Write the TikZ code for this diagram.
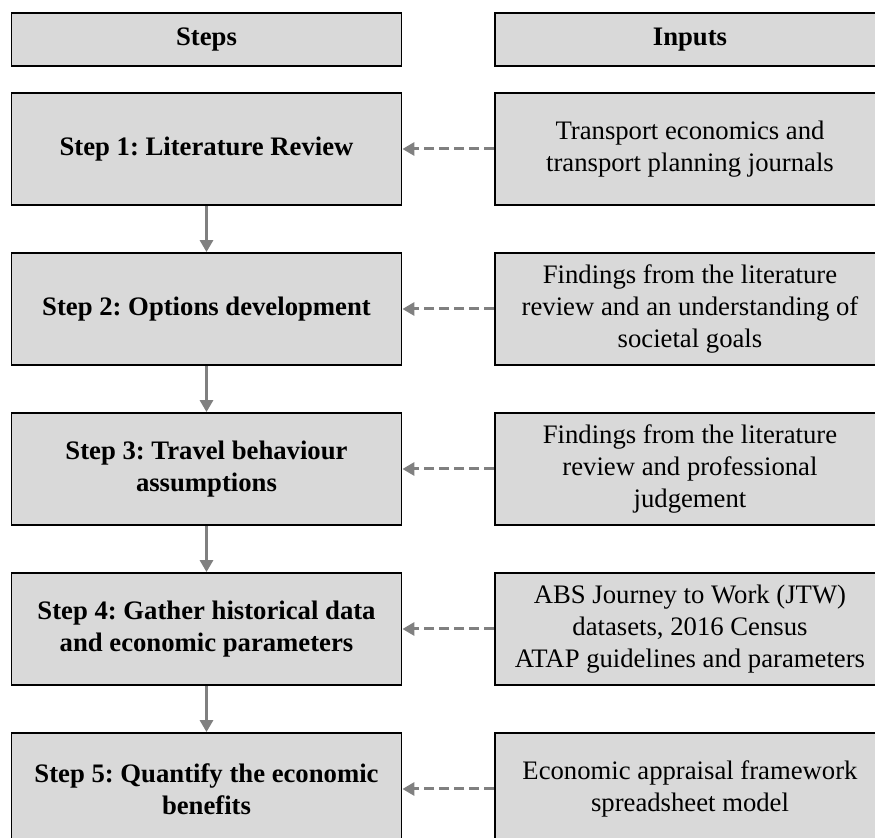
\documentclass[tikz,border=0pt]{standalone}
\usepackage{fontspec}
\setmainfont{Liberation Serif}
\frenchspacing
\usetikzlibrary{arrows.meta,positioning}
\definecolor{boxGrey}{RGB}{217,217,217}
\definecolor{arrowGrey}{RGB}{128,128,128}

\begin{document}
\begin{tikzpicture}[x=0.5pt,y=-0.5pt,
    box/.style={draw=black,fill=boxGrey,line width=0.9pt,
                minimum width=195pt,minimum height=56pt,
                inner sep=0pt,align=center,
                font=\fontsize{13.35}{15.9}\selectfont},
    head/.style={box,minimum height=26.5pt,font=\fontsize{13.35}{15.9}\selectfont\bfseries},
    stepbox/.style={box,font=\fontsize{13.35}{15.9}\selectfont\bfseries},
    inbox/.style={box},
    flow/.style={arrowGrey,line width=1.5pt,-{Triangle[length=6pt,width=6.5pt]}},
    feed/.style={flow,dash pattern=on 5pt off 2.5pt}]

    \useasboundingbox (0,0) rectangle (875,838);
    \clip (0,0) rectangle (875,838);

    % Headers
    \node[head] (steps) at (206.5,39.5) {Steps};
    \node[head] (inputs) at (690,39.5) {Inputs};

    % Steps
    \foreach \i/\txt in {1/{Step 1: Literature Review},
                         2/{Step 2: Options development},
                         3/{Step 3: Travel behaviour\\assumptions},
                         4/{Step 4: Gather historical data\\and economic parameters},
                         5/{Step 5: Quantify the economic\\benefits}} {
      \node[stepbox] (s\i) at (206.5,{149+160*(\i-1)}) {\txt};
    }

    % Inputs
    \foreach \i/\txt in {1/{Transport economics and\\transport planning journals},
                         2/{Findings from the literature\\review and an understanding of\\societal goals},
                         3/{Findings from the literature\\review and professional\\judgement},
                         4/{ABS Journey to Work (JTW)\\datasets, 2016 Census\\ATAP guidelines and parameters},
                         5/{Economic appraisal framework\\spreadsheet model}} {
      \node[inbox] (in\i) at (690,{149+160*(\i-1)}) {\txt};
    }

    % Flow between steps
    \foreach \i/\j in {1/2,2/3,3/4,4/5} {
      \draw[flow] (s\i.south) -- (s\j.north);
    }

    % Inputs feeding steps
    \foreach \i in {1,...,5} {
      \draw[feed] (in\i.west) -- (s\i.east);
    }
\end{tikzpicture}
\end{document}
